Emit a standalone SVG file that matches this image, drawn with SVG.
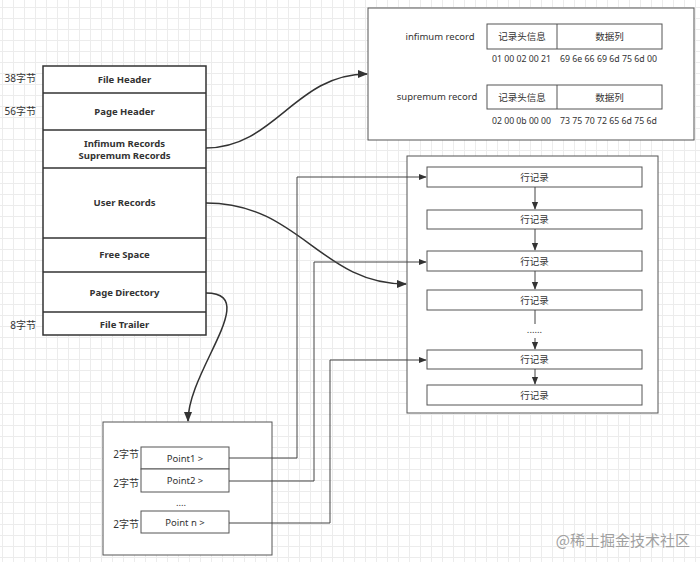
<svg xmlns="http://www.w3.org/2000/svg" width="700" height="562" viewBox="0 0 700 562">
<defs>
<pattern id="grid" x="2" y="7" width="11" height="11" patternUnits="userSpaceOnUse">
<path d="M0,0.5 H11 M0.5,0 V11" fill="none" stroke="#ececec" stroke-width="1"/>
</pattern>
<marker id="arr" viewBox="0 0 10 10" refX="9" refY="5" markerWidth="8" markerHeight="8" orient="auto" markerUnits="userSpaceOnUse">
<path d="M0,1 L10,5 L0,9 Z" fill="#333"/>
</marker>
<marker id="arrL" viewBox="0 0 10 10" refX="9" refY="5" markerWidth="10" markerHeight="10" orient="auto" markerUnits="userSpaceOnUse">
<path d="M0,1 L10,5 L0,9 Z" fill="#333"/>
</marker>
</defs>
<style>
.bg{fill:url(#grid)}
.stk{fill:#fff;stroke:#333;stroke-width:1.5}
.box{fill:#fff;stroke:#555;stroke-width:1}
.b{font-family:"Noto Sans","Noto Sans CJK SC",sans-serif;font-size:9.5px;font-weight:bold;fill:#333;text-anchor:middle}
.t{font-family:"Noto Sans","Noto Sans CJK SC",sans-serif;font-size:9.5px;fill:#333;text-anchor:middle}
.h{font-family:"Noto Sans","Noto Sans CJK SC",sans-serif;font-size:9.5px;fill:#333}
.l{font-family:"Noto Sans","Noto Sans CJK SC",sans-serif;font-size:10px;fill:#333;text-anchor:end}
.c{fill:none;stroke:#333;stroke-width:1.5}
.e{fill:none;stroke:#444;stroke-width:1}
</style>
<rect width="700" height="562" fill="#fff"/>
<rect width="700" height="562" class="bg"/>

<g id="page-structure">
<rect x="43" y="66" width="163" height="269" class="stk"/>
<line x1="43" y1="93" x2="206" y2="93" class="stk"/>
<line x1="43" y1="130" x2="206" y2="130" class="stk"/>
<line x1="43" y1="168" x2="206" y2="168" class="stk"/>
<line x1="43" y1="238" x2="206" y2="238" class="stk"/>
<line x1="43" y1="272" x2="206" y2="272" class="stk"/>
<line x1="43" y1="312" x2="206" y2="312" class="stk"/>
<text x="124.5" y="82.5" class="b">File Header</text>
<text x="124.5" y="115" class="b">Page Header</text>
<text x="124.5" y="146.5" class="b">Infimum Records</text>
<text x="124.5" y="158.5" class="b">Supremum Records</text>
<text x="124.5" y="206" class="b">User Records</text>
<text x="124.5" y="258" class="b">Free Space</text>
<text x="124.5" y="296" class="b">Page Directory</text>
<text x="124.5" y="328" class="b">File Trailer</text>
<text x="36" y="82" class="l">38字节</text>
<text x="36" y="115" class="l">56字节</text>
<text x="36" y="329" class="l">8字节</text>
</g>

<g id="infimum-supremum">
<rect x="368" y="8" width="326" height="132" class="box"/>
<text x="440" y="39.5" class="t">infimum record</text>
<rect x="487" y="24" width="175" height="25" class="box"/>
<line x1="557" y1="24" x2="557" y2="49" class="box"/>
<text x="522" y="40" class="t">记录头信息</text>
<text x="609.5" y="40" class="t">数据列</text>
<text x="492" y="62" class="h" textLength="59" lengthAdjust="spacingAndGlyphs">01 00 02 00 21</text>
<text x="560" y="62" class="h" textLength="97" lengthAdjust="spacingAndGlyphs">69 6e 66 69 6d 75 6d 00</text>
<text x="437" y="99.5" class="t">supremum record</text>
<rect x="487" y="85" width="175" height="24" class="box"/>
<line x1="557" y1="85" x2="557" y2="109" class="box"/>
<text x="522" y="100.5" class="t">记录头信息</text>
<text x="609.5" y="100.5" class="t">数据列</text>
<text x="492" y="123.5" class="h" textLength="59" lengthAdjust="spacingAndGlyphs">02 00 0b 00 00</text>
<text x="560" y="123.5" class="h" textLength="97" lengthAdjust="spacingAndGlyphs">73 75 70 72 65 6d 75 6d</text>
</g>

<g id="user-records">
<rect x="407" y="156" width="251" height="257" class="box"/>
<rect x="427" y="167" width="215" height="20" class="box"/>
<text x="534.5" y="180.5" class="t">行记录</text>
<rect x="427" y="210" width="215" height="19" class="box"/>
<text x="534.5" y="223" class="t">行记录</text>
<rect x="427" y="251" width="215" height="20" class="box"/>
<text x="534.5" y="264.5" class="t">行记录</text>
<rect x="427" y="290" width="215" height="20" class="box"/>
<text x="534.5" y="303.5" class="t">行记录</text>
<text x="534.5" y="333" class="t">......</text>
<rect x="427" y="350" width="215" height="19" class="box"/>
<text x="534.5" y="363" class="t">行记录</text>
<rect x="427" y="385" width="215" height="20" class="box"/>
<text x="534.5" y="398.5" class="t">行记录</text>
</g>

<g id="page-directory">
<rect x="103" y="422" width="169" height="133" class="box"/>
<rect x="141" y="447" width="88" height="22" class="box"/>
<text x="185" y="461.5" class="t">Point1 &gt;</text>
<rect x="141" y="469" width="88" height="23" class="box"/>
<text x="185" y="484" class="t">Point2 &gt;</text>
<text x="181" y="506" class="t">....</text>
<rect x="141" y="511" width="88" height="22" class="box"/>
<text x="185" y="525.5" class="t">Point n &gt;</text>
<text x="139" y="458" class="l">2字节</text>
<text x="139" y="487" class="l">2字节</text>
<text x="139" y="528" class="l">2字节</text>
</g>

<g id="connectors">
<path d="M206,148 C275,148 295,74 367,74" class="c" marker-end="url(#arrL)"/>
<path d="M206,203 C300,203 320,284 406,284" class="c" marker-end="url(#arrL)"/>
<path d="M206,293 C262,293 188,370 188,421" class="c" marker-end="url(#arrL)"/>
<path d="M229,458 H297 V177 H426" class="e" marker-end="url(#arr)"/>
<path d="M229,481 H314 V262 H426" class="e" marker-end="url(#arr)"/>
<path d="M229,523 H330 V360 H426" class="e" marker-end="url(#arr)"/>
<path d="M535,187 V209" class="e" marker-end="url(#arr)"/>
<path d="M535,229 V250" class="e" marker-end="url(#arr)"/>
<path d="M535,271 V289" class="e" marker-end="url(#arr)"/>
<path d="M535,310 V324" class="e"/>
<path d="M535,338 V349" class="e" marker-end="url(#arr)"/>
<path d="M535,369 V384" class="e" marker-end="url(#arr)"/>
</g>

<text x="690" y="546" font-family="'Noto Sans CJK SC',sans-serif" font-size="15" fill="#a0a0a0" text-anchor="end">@稀土掘金技术社区</text>
</svg>
